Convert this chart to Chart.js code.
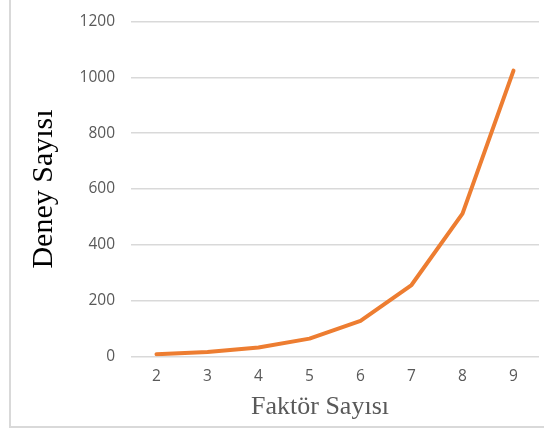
<!DOCTYPE html>
<html>
<head>
<meta charset="utf-8">
<script src="https://cdn.jsdelivr.net/npm/chart.js@4"></script>
<style>
  html, body { margin: 0; padding: 0; background: #fff; }
  body { width: 544px; height: 432px; position: relative; overflow: hidden; }
  #frame { position: absolute; left: 9px; top: -2px; width: 545px; height: 430px;
           border-left: 2px solid #d9d9d9; border-bottom: 2px solid #d9d9d9; box-sizing: border-box; }
  #wrap { position: absolute; left: 0; top: 0; width: 544px; height: 432px; }
</style>
</head>
<body>
<div id="frame"></div>
<div id="wrap"><canvas id="c" width="544" height="432"></canvas></div>
<script>
// Number of factors and the resulting number of runs
const factorCounts = ['2', '3', '4', '5', '6', '7', '8', '9'];
const runCounts = [8, 16, 32, 64, 128, 256, 512, 1024];
const yTicks = [0, 200, 400, 600, 800, 1000, 1200];

const xTitleText = 'Faktör Sayısı';
const yTitleText = 'Deney Sayısı';

const tickFont = { family: '"Open Sans", Lato, sans-serif', size: 15.5 };
const tickColor = '#595959';
const gridColor = '#d9d9d9';

// Horizontal axis title, placed under the category labels
const xTitlePlugin = {
  id: 'xTitle',
  afterDraw(chart) {
    const { ctx, chartArea } = chart;
    ctx.save();
    ctx.font = '26px "Liberation Serif", "Times New Roman", serif';
    ctx.fillStyle = '#595959';
    ctx.textAlign = 'center';
    ctx.textBaseline = 'alphabetic';
    ctx.fillText(xTitleText, (chartArea.left + chartArea.right) / 2 - 15, chartArea.bottom + 57);
    ctx.restore();
  }
};

new Chart(document.getElementById('c'), {
  type: 'line',
  data: {
    labels: factorCounts,
    datasets: [{
      data: runCounts,
      borderColor: '#ED7D31',
      backgroundColor: '#ED7D31',
      borderWidth: 4,
      borderCapStyle: 'round',
      borderJoinStyle: 'round',
      pointRadius: 0,
      tension: 0,
      fill: false
    }]
  },
  options: {
    responsive: false,
    animation: false,
    layout: { padding: { left: 10, right: 5, top: 21.5, bottom: 0 } },
    plugins: { legend: { display: false }, tooltip: { enabled: false } },
    scales: {
      x: {
        type: 'category',
        offset: true,
        grid: { display: false, drawTicks: false },
        border: { display: false },
        ticks: { color: tickColor, font: tickFont, padding: 11, maxRotation: 0 },
        afterFit(scale) {
          scale.height = 75.5;
          scale.paddingLeft = 0;
          scale.paddingRight = 0;
        }
      },
      y: {
        min: 0,
        max: 1200,
        afterBuildTicks(scale) { scale.ticks = yTicks.map(v => ({ value: v })); },
        grid: { color: gridColor, lineWidth: 1.5, drawTicks: false },
        border: { display: false },
        ticks: { color: tickColor, font: tickFont, padding: 16, callback: v => String(v) },
        title: {
          display: true,
          text: yTitleText,
          color: '#000000',
          font: { family: '"Liberation Serif", "Times New Roman", serif', size: 30 },
          padding: { top: 16, bottom: 0 }
        },
        afterFit(scale) {
          scale.width = 121;
          scale.paddingTop = 0;
          scale.paddingBottom = 0;
        }
      }
    }
  },
  plugins: [xTitlePlugin]
});
</script>
</body>
</html>
